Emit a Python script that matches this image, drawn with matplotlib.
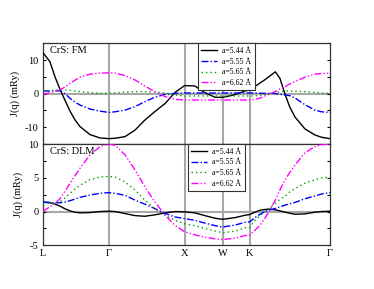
import matplotlib
matplotlib.use("Agg")
import matplotlib.pyplot as plt
from matplotlib.ticker import MultipleLocator, FuncFormatter

plt.rcParams['font.family'] = ['Liberation Serif', 'DejaVu Serif']
plt.rcParams['mathtext.fontset'] = 'stix'

# high-symmetry path positions (units of 2pi/a) and labels
sym_pos = [0.0, 0.866, 1.866, 2.366, 2.720, 3.780]
sym_labels = ['L', 'Γ', 'X', 'W', 'K', 'Γ']

# path coordinate grid
q = [0.000, 0.092, 0.158, 0.224, 0.290, 0.356, 0.421, 0.487, 0.619, 0.751,
     0.866, 0.95, 1.08, 1.21, 1.34, 1.47, 1.61, 1.74, 1.866, 2.00,
     2.13, 2.27, 2.366, 2.53, 2.66, 2.72, 2.79, 2.86, 2.92, 2.99,
     3.06, 3.12, 3.19, 3.25, 3.32, 3.45, 3.58, 3.67, 3.78]

series_labels = ['a=5.44 Å', 'a=5.55 Å', 'a=5.65 Å', 'a=6.62 Å']

# FM panel
fm_544 = [12.2, 9.5, 5.0, 1.3, -2.0, -5.2, -7.8, -9.8, -12.2, -13.2,
          -13.4, -13.3, -12.8, -10.9, -7.9, -5.4, -2.9, 0.4, 2.4, 2.3,
          0.3, -1.1, -1.1, -0.3, 0.8, 1.1, 2.1, 3.2, 4.1, 5.3,
          6.5, 4.6, -0.3, -4.0, -7.0, -10.5, -12.3, -13.0, -13.4]
fm_555 = [0.8, 0.8, 0.9, 0.8, 0.0, -1.4, -2.5, -3.4, -4.6, -5.2,
          -5.6, -5.4, -4.9, -3.9, -2.4, -1.1, -0.2, 0.1, 0.2, 0.2,
          0.2, 0.2, 0.2, 0.2, 0.2, 0.2, 0.2, 0.1, 0.1, 0.1,
          0.0, -0.2, -0.4, -0.6, -1.3, -3.3, -4.9, -5.4, -5.6]
fm_565 = [0.9, 0.9, 1.0, 1.1, 1.1, 1.0, 0.8, 0.6, 0.3, 0.1,
          0.1, 0.2, 0.5, 0.6, 0.6, 0.5, 0.2, -0.4, -0.7, -0.7,
          -0.7, -0.7, -0.7, -0.7, -0.7, -0.7, -0.7, -0.5, -0.3, 0.0,
          0.3, 0.6, 0.8, 0.8, 0.7, 0.6, 0.4, 0.2, 0.1]
fm_662 = [-0.2, 0.3, 0.7, 1.1, 2.0, 3.1, 4.0, 4.9, 5.8, 6.1,
          6.2, 6.1, 5.4, 4.1, 2.3, 0.6, -0.9, -1.7, -1.9, -1.9,
          -1.9, -1.9, -1.9, -1.9, -1.9, -1.9, -1.7, -1.3, -0.7, 0.0,
          0.6, 1.4, 2.1, 2.9, 3.6, 4.9, 5.8, 6.0, 6.1]

# DLM panel
dlm_544 = [1.4, 1.3, 1.1, 0.8, 0.4, 0.1, -0.1, -0.2, -0.15, 0.0,
           0.05, 0.0, -0.3, -0.6, -0.7, -0.5, -0.2, 0.0, -0.05, -0.2,
           -0.6, -1.0, -1.15, -0.9, -0.55, -0.45, -0.1, 0.2, 0.3, 0.35,
           0.25, 0.1, -0.1, -0.25, -0.4, -0.35, -0.1, 0.0, 0.05]
dlm_555 = [1.4, 1.35, 1.3, 1.3, 1.4, 1.6, 1.85, 2.1, 2.45, 2.7,
           2.8, 2.7, 2.4, 1.7, 1.1, 0.45, -0.3, -0.8, -1.05, -1.3,
           -1.7, -2.1, -2.3, -2.0, -1.6, -1.55, -0.9, -0.4, 0.0, 0.25,
           0.45, 0.7, 0.95, 1.15, 1.35, 1.9, 2.3, 2.6, 2.8]
dlm_565 = [1.25, 1.2, 1.25, 1.45, 2.0, 2.7, 3.3, 3.9, 4.7, 5.1,
           5.2, 5.1, 4.4, 3.2, 1.7, 0.45, -0.55, -1.3, -1.8, -2.1,
           -2.5, -2.9, -3.15, -2.9, -2.4, -2.4, -1.3, -0.6, 0.0, 0.6,
           1.2, 1.8, 2.3, 2.9, 3.4, 4.2, 4.7, 5.0, 5.1]
dlm_662 = [0.05, 0.7, 1.2, 1.9, 3.0, 4.2, 5.3, 6.4, 8.4, 9.6,
           10.0, 9.8, 8.4, 6.2, 3.7, 1.45, -0.55, -2.05, -3.0, -3.45,
           -3.8, -4.05, -4.15, -3.95, -3.55, -3.5, -2.8, -2.0, -1.05, 0.3,
           1.7, 3.2, 4.7, 5.8, 6.9, 8.7, 9.6, 9.9, 10.0]

colors = ['#000000', '#0000ff', '#00a000', '#ff00ff']
styles = ['-', (0, (5, 1.5, 1, 1.5)), (0, (1, 2.2)), (0, (5, 1.5, 1, 1.5, 1, 1.5))]

fig = plt.figure(figsize=(3.74, 2.89), dpi=100)
L, R = 43 / 374, 330 / 374
ax1 = fig.add_axes([L, 1 - 144 / 289, R - L, (144 - 43.3) / 289])
ax2 = fig.add_axes([L, 1 - 245.3 / 289, R - L, (245.3 - 144) / 289])

def style_axis(ax, data, ylim, major, minor, title, leg_x):
    for p in sym_pos[1:-1]:
        ax.axvline(p, color='#a8a8a8', lw=1.5, zorder=1)
    ax.axhline(0, color='#a8a8a8', lw=1.5, zorder=1)
    for vals, c, ls, lab in zip(data, colors, styles, series_labels):
        ax.plot(q, vals, color=c, linestyle=ls, lw=1.0, label=lab, zorder=3)
    ax.set_xlim(sym_pos[0], sym_pos[-1])
    ax.set_ylim(*ylim)
    ax.yaxis.set_major_locator(MultipleLocator(minor))
    ax.yaxis.set_major_formatter(FuncFormatter(
        lambda v, p: ('%d' % round(v)) if abs(v / major - round(v / major)) < 1e-6 else ''))
    ax.tick_params(axis='y', direction='in', length=2.5, width=0.8,
                   right=True, labelsize=7.5, pad=3)
    ax.set_ylabel('J(q) (mRy)', fontsize=7.5, labelpad=4)
    ax.text(0.025, 0.975, title, transform=ax.transAxes, fontsize=7.5,
            va='top', ha='left')
    for s in ax.spines.values():
        s.set_linewidth(0.9)
        s.set_color('#333333')
    leg = ax.legend(loc='upper left', bbox_to_anchor=(leg_x, 1.0), fontsize=5.6,
                    frameon=True, fancybox=False, edgecolor='#333333',
                    framealpha=1, borderpad=0.45, labelspacing=0.35,
                    handlelength=2.0, handletextpad=0.7, borderaxespad=0)
    leg.get_frame().set_linewidth(0.8)

style_axis(ax1, [fm_544, fm_555, fm_565, fm_662], (-15, 15), 10, 5, 'CrS: FM', 0.54)
style_axis(ax2, [dlm_544, dlm_555, dlm_565, dlm_662], (-5, 10), 5, 2.5, 'CrS: DLM', 0.505)

ax1.set_xticks([])
ax2.set_xticks(sym_pos)
ax2.set_xticklabels(sym_labels, fontsize=7.5)
ax2.tick_params(axis='x', length=0, pad=3)

fig.savefig('out.png', dpi=100)
